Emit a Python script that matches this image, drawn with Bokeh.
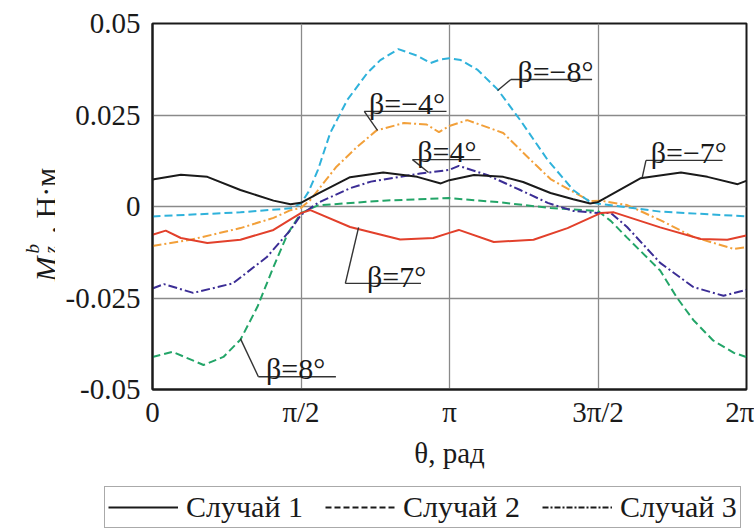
import numpy as np
from bokeh.plotting import figure
from bokeh.models import FixedTicker, Range1d, Legend, LegendItem, Label
from bokeh.layouts import row, column
from bokeh.embed import file_html
from bokeh.resources import INLINE

FONT = "Liberation Serif"

# ---------------- data (theta in rad, Mz in N*m) ----------------
x_tick_labels = ["0", "π/2", "π", "3π/2", "2π"]
y_ticks = [-0.05, -0.025, 0.0, 0.025, 0.05]
y_tick_labels = ["-0.05", "-0.025", "0", "0.025", "0.05"]

# Case 1 (solid): beta = -7 deg (black), beta = 7 deg (red)
theta_m7 = [0.00, 0.30, 0.58, 0.93, 1.28, 1.46, 1.57, 1.75, 2.09, 2.44, 2.80, 3.05, 3.14, 3.40,
            3.71, 3.92, 4.21, 4.45, 4.63, 4.71, 4.81, 5.16, 5.59, 5.87, 6.19, 6.28]
mz_m7 = [0.0074, 0.0087, 0.0081, 0.0045, 0.0016, 0.0006, 0.0010, 0.0035, 0.0080, 0.0093, 0.0081,
         0.0063, 0.0072, 0.0086, 0.0081, 0.0067, 0.0037, 0.0020, 0.0008, 0.0012, 0.0026, 0.0077,
         0.0093, 0.0081, 0.0061, 0.0070]
theta_p7 = [0.00, 0.14, 0.30, 0.58, 0.93, 1.28, 1.46, 1.57, 1.67, 2.09, 2.62, 2.97, 3.14, 3.24,
            3.61, 4.03, 4.39, 4.74, 4.88, 5.37, 5.80, 6.08, 6.28]
mz_p7 = [-0.0077, -0.0066, -0.0086, -0.0100, -0.0091, -0.0064, -0.0035, -0.0018, -0.0010, -0.0056,
         -0.0090, -0.0086, -0.0072, -0.0064, -0.0097, -0.0091, -0.0059, -0.0018, -0.0016, -0.0057,
         -0.0089, -0.0091, -0.0079]

# Case 2 (dashed): beta = -8 deg (cyan), beta = 8 deg (green)
theta_m8 = [0.00, 0.93, 1.46, 1.57, 1.65, 1.75, 1.88, 2.06, 2.27, 2.41, 2.60, 2.80, 2.94, 3.05,
            3.14, 3.26, 3.44, 3.65, 3.89, 4.18, 4.45, 4.63, 4.71, 5.37, 6.28]
mz_m8 = [-0.0027, -0.0016, -0.0005, 0.0008, 0.0040, 0.0100, 0.0201, 0.0291, 0.0364, 0.0400, 0.0430,
         0.0412, 0.0392, 0.0402, 0.0405, 0.0400, 0.0373, 0.0320, 0.0236, 0.0127, 0.0045, 0.0012,
         0.0008, -0.0014, -0.0027]
theta_p8 = [0.00, 0.21, 0.54, 0.75, 0.93, 1.11, 1.28, 1.43, 1.57, 1.75, 2.44, 3.14, 3.65, 4.21,
            4.71, 4.85, 5.02, 5.37, 5.55, 5.72, 5.93, 6.15, 6.28]
mz_p8 = [-0.0411, -0.0397, -0.0433, -0.0411, -0.0364, -0.0274, -0.0165, -0.0074, -0.0018, 0.0003,
         0.0016, 0.0023, 0.0012, -0.0004, -0.0012, -0.0040, -0.0085, -0.0175, -0.0250, -0.0310,
         -0.0366, -0.0400, -0.0411]

# Case 3 (dash-dot): beta = -4 deg (orange), beta = 4 deg (purple)
theta_m4 = [0.00, 0.40, 0.93, 1.28, 1.46, 1.57, 1.67, 1.94, 2.16, 2.37, 2.66, 2.90, 3.03, 3.14,
            3.33, 3.71, 4.00, 4.21, 4.45, 4.63, 4.74, 5.02, 5.37, 5.72, 6.15, 6.28]
mz_m4 = [-0.0108, -0.0091, -0.0059, -0.0031, -0.0010, -0.0004, 0.0018, 0.0107, 0.0162, 0.0208,
         0.0228, 0.0224, 0.0203, 0.0220, 0.0236, 0.0201, 0.0127, 0.0075, 0.0040, 0.0015, 0.0016,
         0.0004, -0.0037, -0.0083, -0.0116, -0.0111]
theta_p4 = [0.00, 0.12, 0.43, 0.85, 1.21, 1.46, 1.57, 1.75, 2.09, 2.31, 2.83, 3.14, 3.24, 3.54,
            3.89, 4.18, 4.45, 4.71, 4.85, 5.02, 5.37, 5.72, 6.04, 6.28]
mz_p4 = [-0.0224, -0.0212, -0.0236, -0.0210, -0.0138, -0.0064, -0.0023, 0.0010, 0.0050, 0.0068,
         0.0090, 0.0100, 0.0111, 0.0086, 0.0045, 0.0010, -0.0012, -0.0018, -0.0018, -0.0056,
         -0.0154, -0.0220, -0.0244, -0.0228]

legend_labels = ["Случай 1", "Случай 2", "Случай 3"]

# annotation texts and placements (text x, baseline y, underline x0, x1, y, leader end x, y)
annotations = [
    ("β=−8°", 3.86, 0.0369, 3.79, 4.65, 0.0347, 3.65, 0.0317),
    ("β=−7°", 5.27, 0.0148, 5.22, 6.03, 0.0126, 5.18, 0.0079),
    ("β=−4°", 2.29, 0.0281, 2.24, 3.11, 0.0260, 2.38, 0.0208),
    ("β=4°", 2.80, 0.0150, 2.75, 3.47, 0.0128, 2.92, 0.0093),
    ("β=7°", 2.27, -0.0191, 2.04, 2.84, -0.0210, 2.18, -0.0057),
    ("β=8°", 1.20, -0.0443, 1.12, 1.94, -0.0465, 0.93, -0.0361),
]

# ---------------- main figure ----------------
p = figure(frame_width=594, frame_height=366, output_backend="svg", toolbar_location=None,
           title=None, x_range=Range1d(0, 2 * np.pi), y_range=Range1d(-0.05, 0.05),
           min_border_left=97, min_border_right=8, min_border_top=23, min_border_bottom=97)
p.background_fill_color = "white"
p.border_fill_color = "white"
p.outline_line_color = "#1a1a1a"
p.outline_line_width = 2

x_ticks = [k * np.pi / 2 for k in range(len(x_tick_labels))]
p.xaxis.ticker = FixedTicker(ticks=x_ticks)
p.xaxis.major_label_overrides = {t: l for t, l in zip(x_ticks, x_tick_labels)}
p.yaxis.ticker = FixedTicker(ticks=y_ticks)
p.yaxis.major_label_overrides = {t: l for t, l in zip(y_ticks, y_tick_labels)}
p.xgrid.ticker = FixedTicker(ticks=x_ticks)
p.ygrid.ticker = FixedTicker(ticks=y_ticks)
for g in (p.xgrid, p.ygrid):
    g.grid_line_color = "#8a8a8a"
    g.grid_line_width = 1.3

for ax in (p.xaxis, p.yaxis):
    ax.major_tick_line_color = None
    ax.minor_tick_line_color = None
    ax.major_tick_out = 0
    ax.major_tick_in = 0
    ax.axis_line_color = "#1a1a1a"
    ax.axis_line_width = 2
    ax.major_label_text_font = FONT
    ax.major_label_text_font_size = "29px"
    ax.major_label_text_color = "#1a1a1a"
p.xaxis.major_label_standoff = 6
p.yaxis.major_label_standoff = 12
p.xaxis.axis_label = "θ, рад"
p.xaxis.axis_label_text_font = FONT
p.xaxis.axis_label_text_font_size = "29px"
p.xaxis.axis_label_text_font_style = "normal"
p.xaxis.axis_label_text_color = "#1a1a1a"
p.xaxis.axis_label_standoff = 6

LW = 2.0
p.line(theta_p8, mz_p8, line_color="#23a568", line_width=LW, line_dash="8 4")
p.line(theta_p4, mz_p4, line_color="#3b2d95", line_width=LW, line_dash="9 3 2 3")
p.line(theta_m4, mz_m4, line_color="#f2a03a", line_width=LW, line_dash="9 3 2 3")
p.line(theta_m8, mz_m8, line_color="#2fb2db", line_width=LW, line_dash="8 4")
p.line(theta_p7, mz_p7, line_color="#e2402b", line_width=LW)
p.line(theta_m7, mz_m7, line_color="#1a1a1a", line_width=LW)

for txt, tx, ty, ux0, ux1, uy, lx, ly in annotations:
    p.line([ux0, ux1], [uy, uy], line_color="#333333", line_width=1.4)
    p.line([ux0, lx], [uy, ly], line_color="#333333", line_width=1.4)
    p.add_layout(Label(x=tx, y=ty, text=txt, text_font=FONT, text_font_size="30px",
                       text_color="#1a1a1a", text_align="left", text_baseline="alphabetic"))

# ---------------- left strip: rotated y-axis label  M_z^b, Н·м ----------------
LW_STRIP = 55
LH = 486
left = figure(frame_width=LW_STRIP, frame_height=LH, output_backend="svg", toolbar_location=None,
              title=None, x_range=Range1d(0, LW_STRIP), y_range=Range1d(0, LH), min_border=0,
              min_border_left=0, min_border_right=0, min_border_top=0, min_border_bottom=0,
              x_axis_location=None, y_axis_location=None)
left.grid.visible = False
left.outline_line_color = None
left.background_fill_color = "white"
left.border_fill_color = "white"
ylab_parts = [
    ("M", 45, LH - 258, "30px", "italic"),
    ("z", 50, LH - 230, "19px", "italic"),
    ("b", 32, LH - 230, "19px", "italic"),
    (", Н·м", 45, LH - 210, "30px", "normal"),
]
for txt, lx, ly, fs, st in ylab_parts:
    left.add_layout(Label(x=lx, y=ly, text=txt, angle=np.pi / 2, text_font=FONT,
                          text_font_size=fs, text_font_style=st, text_color="#1a1a1a",
                          text_align="left", text_baseline="alphabetic"))

# ---------------- bottom strip: legend ----------------
BH = 531 - LH
leg = figure(frame_width=754, frame_height=BH, output_backend="svg", toolbar_location=None,
             title=None, x_range=Range1d(0, 1), y_range=Range1d(100, 101), min_border=0,
             min_border_left=0, min_border_right=0, min_border_top=0, min_border_bottom=0,
             x_axis_location=None, y_axis_location=None)
leg.grid.visible = False
leg.outline_line_color = None
leg.background_fill_color = "white"
leg.border_fill_color = "white"
# legend samples: black copies of one series per case, kept outside the strip's visible range
r1 = leg.line(theta_m7, mz_m7, line_color="#1a1a1a", line_width=LW)
r2 = leg.line(theta_m8, mz_m8, line_color="#1a1a1a", line_width=LW, line_dash="6 3")
r3 = leg.line(theta_m4, mz_m4, line_color="#1a1a1a", line_width=LW, line_dash="6 2 2 2")
legend = Legend(items=[LegendItem(label=legend_labels[0], renderers=[r1]),
                       LegendItem(label=legend_labels[1], renderers=[r2]),
                       LegendItem(label=legend_labels[2], renderers=[r3])],
                orientation="horizontal", location=(104, 3))
legend.label_text_font = FONT
legend.label_text_font_size = "30px"
legend.label_text_color = "#1a1a1a"
legend.glyph_width = 70
legend.glyph_height = 30
legend.label_standoff = 8
legend.spacing = 22
legend.padding = 3
legend.margin = 0
legend.border_line_color = "#555555"
legend.border_line_width = 1.5
legend.background_fill_alpha = 1
leg.add_layout(legend)

layout = column(row(left, p), leg)
open("out.html", "w").write(file_html(layout, INLINE))
